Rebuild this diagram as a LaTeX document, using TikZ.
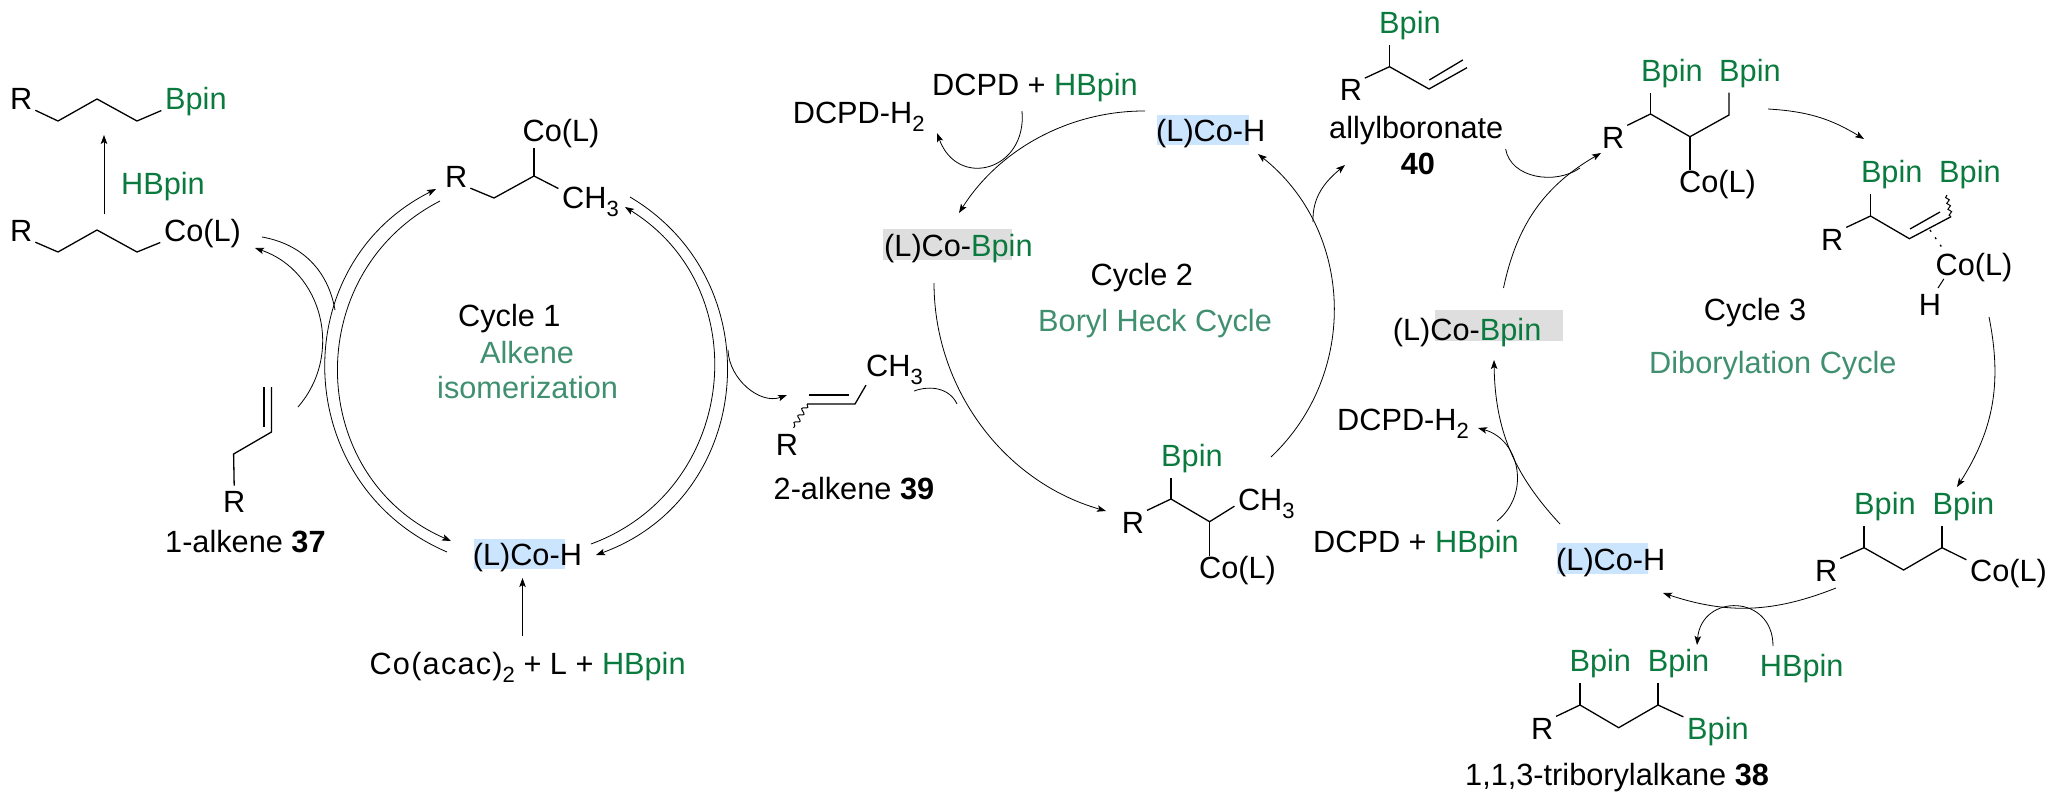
\documentclass[tikz,border=0pt]{standalone}
\usepackage{fontspec}
\setmainfont{Liberation Sans}
\usetikzlibrary{arrows.meta,decorations.pathmorphing}
\definecolor{bpin}{HTML}{0B7A3E}
\definecolor{cycname}{HTML}{3F8F70}
\definecolor{hlblue}{HTML}{CCE5FF}
\definecolor{hlgrey}{HTML}{DEDEDE}
\newcommand{\chsub}[1]{\raisebox{-8pt}{\fontsize{22}{22}\selectfont #1}}
\tikzset{
  lab/.style   ={anchor=base west, inner sep=0pt, font=\fontsize{30.7}{36}\selectfont},
  grn/.style   ={lab, text=bpin},
  cyc/.style   ={lab, text=cycname},
  bond/.style  ={line width=1.3pt},
  % bond running between two labels
  chain/.style ={bond, shorten <=3pt, shorten >=4pt},
  flow/.style  ={-{Stealth[length=9pt,width=6.5pt,inset=2pt]}, line width=0.8pt},
  plainflow/.style={line width=0.8pt},
  wavy/.style  ={bond, line width=1pt, decorate, decoration={snake,amplitude=2.4pt,segment length=8pt}},
}
\begin{document}
\begin{tikzpicture}[x=1pt,y=-1pt]
    \useasboundingbox (0,0) rectangle (2057,803);
    \fill[hlblue] (473.6,539) rectangle (564.7,569);
    \fill[hlblue] (1157.4,115) rectangle (1249,145);
    \fill[hlblue] (1557,543) rectangle (1647.7,574);
    \fill[hlgrey] (883,229) rectangle (1012,260);
    \fill[hlgrey] (1434.8,310) rectangle (1563.4,340.7);

    % cycle 1
    \node[lab] (rA) at (10,109) {R};
    \node[grn] (bpA) at (165,109) {Bpin};
    \node[lab] (rB) at (10,241) {R};
    \node[lab] (coB) at (164,241) {Co(L)};
    \node[grn] (hbA) at (121,194) {HBpin};
    \node[lab] (rC) at (445,187) {R};
    \node[lab] (coC) at (522.5,141) {Co(L)};
    \node[lab] (chC) at (562,208) {CH\chsub{3}};
    \node[lab] (cycA) at (458,326) {Cycle 1};
    \node[cyc] (nameA) at (480,363) {Alkene};
    \node[cyc] (nameAb) at (437,398) {isomerization};
    \node[lab] (rD) at (223,512) {R};
    \node[lab] (alkA) at (165,552) {1-alkene \textbf{37}};
    \node[lab] (cohA) at (472.6,565) {(L)Co-H};
    \node[lab] (acac) at (369.4,674) {{\addfontfeature{LetterSpace=4}Co(acac)}\chsub{2} + L + \textcolor{bpin}{HBpin}};

    \draw[chain] (rA.base east) -- (58,121) -- (97,99) -- (137,121) -- (bpA.base west);
    \draw[chain] (rB.base east) -- (58,252) -- (97,230) -- (137,252) -- (coB.base west);
    \coordinate (vC) at (534,176);
    \draw[chain] (rC.base east) -- (494,198) -- (vC) -- ([yshift=-4pt]chC.north west);
    \draw[bond] (vC) -- (vC |- coC.south);
    \draw[bond,shorten <=5pt] (rD.north) -- (233.6,454) -- (271.5,432) -- (271.5,387);
    \draw[bond] (264,427) -- (264,387);

    \coordinate (upAa) at (104,214);
    \coordinate (upAb) at (104,135);
    \draw[flow] (upAa) -- (upAb);
    \coordinate (acacT) at (522.5,636);
    \coordinate (cohAb) at (522.5,578);
    \draw[flow] (acacT) -- (cohAb);

    \coordinate (oLa) at (447,552);
    \coordinate (oLb) at (436,189);
    \coordinate (iLa) at (440,201);
    \coordinate (iLb) at (451,541);
    \coordinate (oRa) at (630,197);
    \coordinate (oRb) at (596,555);
    \coordinate (iRa) at (591,544);
    \coordinate (iRb) at (625,207);
    \draw[flow] (oLa) to[bend left=65,looseness=1.2] (oLb);
    \draw[flow] (iLa) to[bend right=64.6,looseness=1.19] (iLb);
    \draw[flow] (oRa) to[bend left=64.7,looseness=1.19] (oRb);
    \draw[flow] (iRa) to[bend right=64,looseness=1.18] (iRb);

    \coordinate (hkAa) at (298,407);
    \coordinate (hkAb) at (255,248);
    \coordinate (hkBa) at (262,237);
    \coordinate (hkBb) at (335,310);
    \coordinate (hkCa) at (728,350);
    \coordinate (hkCb) at (787,395);
    \draw[flow] (hkAa) to[bend right=56,looseness=1.1] (hkAb);
    \draw[plainflow] (hkBa) to[bend left=35] (hkBb);
    \draw[flow] (hkCa) to[out=-88,in=200] (hkCb);

    % 2-alkene
    \node[lab] (rE) at (775.7,455) {R};
    \node[lab] (chE) at (866,376.7) {CH\chsub{3}};
    \node[lab] (alkB) at (773.5,499) {2-alkene \textbf{39}};
    \coordinate (wvE) at (793.6,428);
    \draw[bond] (807,404) -- (855,404) -- (chE.south west);
    \draw[bond] (809,395) -- (849,395);
    \draw[wavy] (807,404) -- (wvE);

    % cycle 2
    \node[lab] (dhA) at (792.7,123.3) {DCPD-H\chsub{2}};
    \node[lab] (dcA) at (932,95) {DCPD + \textcolor{bpin}{HBpin}};
    \node[lab] (cohB) at (1156,141) {(L)Co-H};
    \node[lab] (cobA) at (884,256) {(L)Co-\textcolor{bpin}{Bpin}};
    \node[lab] (cycB) at (1090.4,285) {Cycle 2};
    \node[cyc] (nameB) at (1038,331) {Boryl Heck Cycle};
    \node[lab] (rF) at (1121.7,533) {R};
    \node[grn] (bpF) at (1161,466) {Bpin};
    \node[lab] (chF) at (1237.8,510.7) {CH\chsub{3}};
    \node[lab] (coF) at (1199,578) {Co(L)};
    \coordinate (vFa) at (1171,499);
    \coordinate (vFb) at (1209.6,521.7);
    \draw[chain] (rF.north east) -- (vFa) -- (vFb) -- (chF.west);
    \draw[bond,shorten >=5pt] (vFa) -- (vFa |- bpF.south);
    \draw[bond] (vFb) -- (vFb |- coF.north);

    \coordinate (b1a) at (1145,111);
    \coordinate (b1b) at (959,213);
    \coordinate (b2a) at (1022,111);
    \coordinate (b2b) at (937,133);
    \coordinate (b3a) at (934,283);
    \coordinate (b3b) at (1106,511);
    \coordinate (b4a) at (1271,457);
    \coordinate (b4b) at (1258,154);
    \coordinate (b5a) at (1313,222);
    \coordinate (b5b) at (1345,165);
    \coordinate (b6a) at (914,391);
    \coordinate (b6b) at (957,404);
    \draw[flow] (b1a) to[bend right=29,looseness=0.91] (b1b);
    \draw[flow] (b2a) to[out=-85,in=-70,looseness=1.75] (b2b);
    \draw[flow] (b3a) to[bend right=37,looseness=0.95] (b3b);
    \draw[flow] (b4a) to[bend right=49,looseness=1.03] (b4b);
    \draw[flow] (b5a) to[out=92,in=220] (b5b);
    \draw[plainflow] (b6a) to[out=20,in=115] (b6b);

    % allylboronate
    \node[grn] (bpG) at (1379,33) {Bpin};
    \node[lab] (rG) at (1339.6,100.7) {R};
    \node[lab] (allyl) at (1329,138) {allylboronate};
    \node[lab] (numG) at (1400.7,174) {\textbf{40}};
    \coordinate (vG) at (1389.5,66.7);
    \draw[bond,shorten <=3pt] (rG.north east) -- (vG) -- (1429,89) -- (1467,67.7);
    \draw[bond] (1429.3,80) -- (1462.8,60);
    \draw[bond,shorten >=5pt] (vG) -- (vG |- bpG.south);

    % cycle 3
    \node[lab] (rH) at (1602,148) {R};
    \node[grn] (bpHa) at (1641,81) {Bpin};
    \node[grn] (bpHb) at (1719,81) {Bpin};
    \node[lab] (coH) at (1679,192.7) {Co(L)};
    \coordinate (vHa) at (1650.5,114);
    \coordinate (vHb) at (1690,136.7);
    \coordinate (vHc) at (1729,115);
    \draw[bond,shorten <=3pt,shorten >=5pt] (rH.north east) -- (vHa) -- (vHb) -- (vHc) -- (vHc |- bpHb.south);
    \draw[bond,shorten >=5pt] (vHa) -- (vHa |- bpHa.south);
    \draw[bond] (vHb) -- (vHb |- coH.north);

    \node[lab] (rJ) at (1821,250) {R};
    \node[grn] (bpJa) at (1860.8,182.7) {Bpin};
    \node[grn] (bpJb) at (1939,182.7) {Bpin};
    \node[lab] (coJ) at (1935.4,275) {Co(L)};
    \node[lab] (hJ) at (1918.6,315) {H};
    \coordinate (vJa) at (1870.5,216);
    \coordinate (wvJ) at (1946.7,195);
    \draw[bond,shorten <=3pt] (rJ.north east) -- (vJa) -- (1909.4,238.7) -- (1951,216.7);
    \draw[bond] (1910,229) -- (1940,212);
    \draw[bond,shorten >=5pt] (vJa) -- (vJa |- bpJa.south);
    \draw[wavy,decoration={snake,amplitude=1.6pt,segment length=6pt}] (1951,216.7) -- (wvJ);
    \draw[bond,dash pattern=on 2pt off 7pt] (1930,230) -- (1943,249);
    \draw[bond,line width=1pt] (1943.8,279) -- (1938,288);

    \node[lab] (cycC) at (1703.7,320) {Cycle 3};
    \node[cyc] (nameC) at (1649,373.3) {Diborylation Cycle};
    \node[lab] (cobB) at (1392.7,340) {(L)Co-\textcolor{bpin}{Bpin}};
    \node[lab] (dhB) at (1337,430) {DCPD-H\chsub{2}};
    \node[lab] (dcB) at (1313,552.7) {DCPD + \textcolor{bpin}{HBpin}};
    \node[lab] (cohC) at (1556,570) {(L)Co-H};

    \node[lab] (rK) at (1815,581) {R};
    \node[grn] (bpKa) at (1854,514) {Bpin};
    \node[grn] (bpKb) at (1932.5,514) {Bpin};
    \node[lab] (coK) at (1970,581) {Co(L)};
    \coordinate (vKa) at (1864,547.7);
    \coordinate (vKb) at (1942,547.7);
    \draw[chain] (rK.north east) -- (vKa) -- (1903.6,570) -- (vKb) -- ([yshift=-3pt]coK.north west);
    \draw[bond,shorten >=5pt] (vKa) -- (vKa |- bpKa.south);
    \draw[bond,shorten >=5pt] (vKb) -- (vKb |- bpKb.south);

    \node[grn] (hbB) at (1759.7,676.7) {HBpin};
    \node[grn] (bpLa) at (1569.4,671.7) {Bpin};
    \node[grn] (bpLb) at (1647.6,671.7) {Bpin};
    \node[lab] (rL) at (1530.8,739) {R};
    \node[grn] (bpLc) at (1687,739) {Bpin};
    \node[lab] (tribo) at (1465,785) {1,1,3-triborylalkane \textbf{38}};
    \coordinate (vLa) at (1580,705);
    \coordinate (vLb) at (1658,705);
    \draw[chain] (rL.north east) -- (vLa) -- (1618.7,727.7) -- (vLb) -- ([yshift=-2pt]bpLc.north west);
    \draw[bond,shorten >=5pt] (vLa) -- (vLa |- bpLa.south);
    \draw[bond,shorten >=5pt] (vLb) -- (vLb |- bpLb.south);

    \coordinate (c1a) at (1768,109);
    \coordinate (c1b) at (1864,139);
    \coordinate (c2a) at (1989,317);
    \coordinate (c2b) at (1957,487);
    \coordinate (c3a) at (1836,588);
    \coordinate (c3b) at (1663,593);
    \coordinate (c4a) at (1773,646);
    \coordinate (c4b) at (1697,645);
    \coordinate (c5a) at (1560,524);
    \coordinate (c5b) at (1494,360);
    \coordinate (c6a) at (1497,521);
    \coordinate (c6b) at (1478,428);
    \coordinate (c7a) at (1503.5,288);
    \coordinate (c7b) at (1601,153);
    \coordinate (c8a) at (1505.6,149);
    \coordinate (c8b) at (1580,168);
    \draw[flow] (c1a) to[bend left=14] (c1b);
    \draw[flow] (c2a) to[bend left=22] (c2b);
    \draw[flow] (c3a) to[bend left=20] (c3b);
    \draw[flow] (c4a) to[out=90,in=85,looseness=1.75] (c4b);
    \draw[flow] (c5a) to[bend left=21] (c5b);
    \draw[flow] (c6a) to[bend right=63,looseness=1.17] (c6b);
    \draw[flow] (c7a) to[bend left=24] (c7b);
    \draw[plainflow] (c8a) to[out=-80,in=215] (c8b);
\end{tikzpicture}
\end{document}
